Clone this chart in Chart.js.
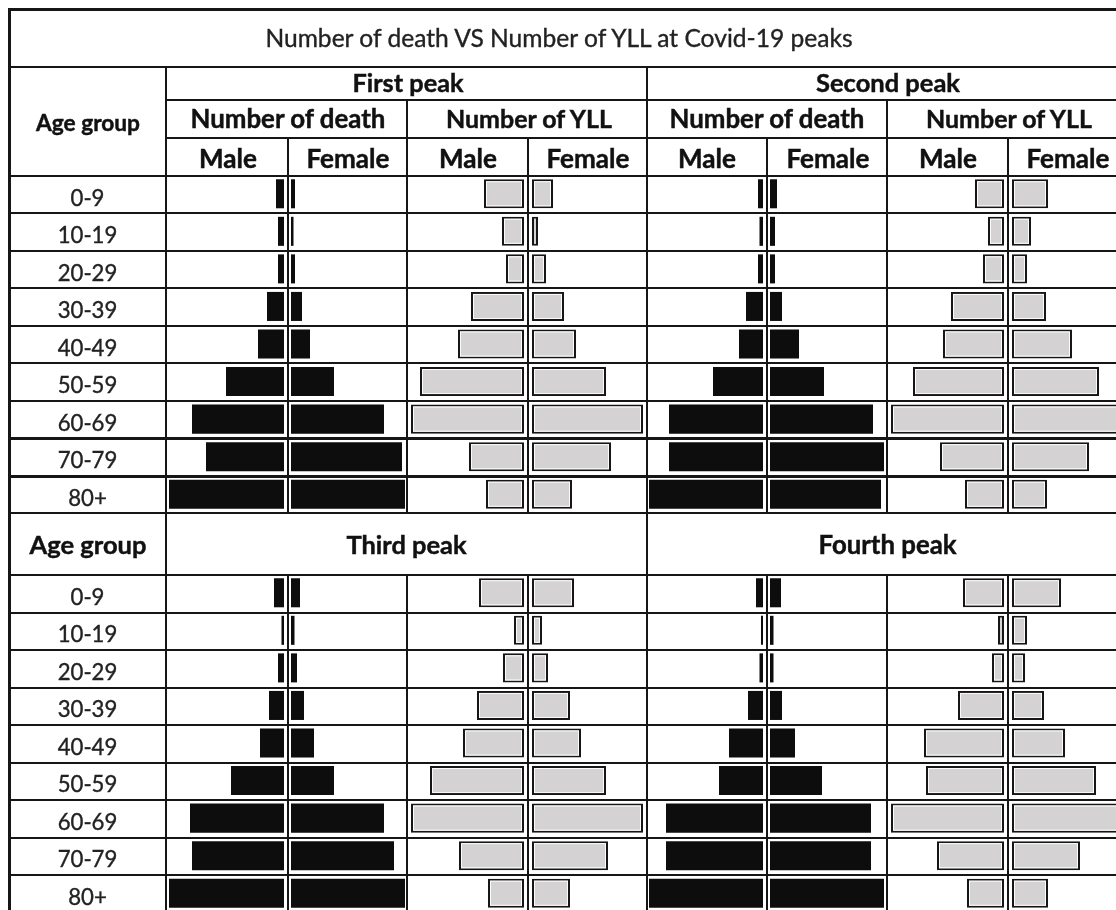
<!DOCTYPE html>
<html><head><meta charset="utf-8">
<script src="https://cdn.jsdelivr.net/npm/chart.js@4.4.0/dist/chart.umd.min.js"></script>
<style>
html,body{margin:0;padding:0;background:#fff;overflow:hidden;width:1116px;height:910px;}
#wrap{position:relative;width:1116px;height:910px;overflow:hidden;background:#fff;}
canvas.bar{position:absolute;}
#grid{position:absolute;left:0;top:0;}
</style></head><body>
<div id="wrap"><svg id="grid" width="1116" height="910" xmlns="http://www.w3.org/2000/svg" shape-rendering="crispEdges"></svg></div>
<script>
// ---- data (bar lengths, relative units) ----
const ageGroups = ['0-9','10-19','20-29','30-39','40-49','50-59','60-69','70-79','80+'];
const peakNames = ['First peak','Second peak','Third peak','Fourth peak'];
const measureNames = ['Number of death','Number of YLL'];
const sexNames = ['Male','Female'];
const titleText = 'Number of death VS Number of YLL at Covid-19 peaks';
const ageHeader = 'Age group';

const p1DeathMale   = [8, 6, 6, 17, 26, 58, 92, 78, 115];
const p1DeathFemale = [4, 2.5, 4, 11, 19, 43, 93, 111, 114];
const p1YllMale     = [40, 22, 18, 53, 66, 104, 113, 55, 38];
const p1YllFemale   = [21, 6, 14, 32, 44, 74, 111, 79, 40];
const p2DeathMale   = [5, 3.5, 5, 17, 24, 50, 94, 94, 114];
const p2DeathFemale = [7, 5, 5, 12, 29, 54, 103, 114, 111];
const p2YllMale     = [29, 16, 21, 53, 61, 91, 113, 64, 39];
const p2YllFemale   = [36, 19, 15, 34, 60, 87, 113, 77, 35];
const p3DeathMale   = [10, 2.5, 6, 15, 24, 53, 94, 92, 115];
const p3DeathFemale = [9, 3.5, 6, 13, 23, 43, 93, 103, 114];
const p3YllMale     = [45, 10, 21, 47, 61, 94, 113, 65, 36];
const p3YllFemale   = [42, 10, 16, 38, 49, 74, 111, 76, 38];
const p4DeathMale   = [7, 2, 3.5, 15, 34, 44, 97, 97, 114];
const p4DeathFemale = [11, 3.5, 3.5, 12, 25, 52, 101, 101, 114];
const p4YllMale     = [41, 6, 12, 46, 80, 78, 113, 67, 37];
const p4YllFemale   = [49, 15, 13, 32, 53, 84, 113, 68, 36];
const axisMax = 118;

// ---- layout ----
const wrap = document.getElementById('wrap');
const svg = document.getElementById('grid');
const NS = 'http://www.w3.org/2000/svg';
const ROW_TOP = 176, ROW_H_TOP = 37.48, ROW_BOT = 575, ROW_H_BOT = 37.5;
const LINE = '#161616';

function rect(x, y, w, h){
  const r = document.createElementNS(NS,'rect');
  r.setAttribute('x', x); r.setAttribute('y', y); r.setAttribute('width', w); r.setAttribute('height', h);
  r.setAttribute('fill', LINE); svg.appendChild(r);
}
function hline(x1, x2, y, h){ rect(x1, y, x2 - x1, h); }
function vline(x, y1, y2, w){ rect(x, y1, w, y2 - y1); }

hline(8, 1116, 8, 3);
hline(8, 1116, 66, 2);
hline(165, 1116, 99, 2);
hline(165, 1116, 137, 2);
for (let k = 0; k <= 9; k++) {
  const y = Math.round(ROW_TOP + k * ROW_H_TOP) - 1;
  hline(8, 1116, y, (k === 7 || k === 8) ? 3 : 2);
}
for (let k = 0; k <= 9; k++) {
  const y = Math.round(ROW_BOT + k * ROW_H_BOT) - 1;
  hline(8, 1116, y, 2);
}
vline(8, 8, 910, 3);
vline(165, 66, 910, 2);
vline(646, 66, 910, 2);
[406, 886].forEach(x => { vline(x, 99, 514, 2); vline(x, 574, 910, 2); });
const centerLines = [287, 527, 766, 1007];
centerLines.forEach(x => { vline(x, 137, 514, 2); vline(x, 574, 910, 2); });

// ---- text ----
const mctx = document.createElement('canvas').getContext('2d');
const FONT = 'Lato';
function fitSize(text, weight, target){
  mctx.font = weight + ' 100px ' + FONT;
  return 100 * target / mctx.measureText(text).width;
}
function addText(text, cx, by, size, weight, color, sw){
  const t = document.createElementNS(NS,'text');
  t.setAttribute('x', cx); t.setAttribute('y', by);
  t.setAttribute('text-anchor','middle');
  t.setAttribute('font-family', FONT);
  t.setAttribute('font-size', size.toFixed(2));
  t.setAttribute('font-weight', weight);
  t.setAttribute('fill', color || '#111');
  t.setAttribute('stroke', color || '#111');
  t.setAttribute('stroke-width', sw);
  t.setAttribute('shape-rendering','auto');
  t.textContent = text;
  svg.appendChild(t);
}
function fitText(text, cx, by, w, weight, color){
  addText(text, cx, by, fitSize(text, weight, w), weight, color, weight >= 700 ? 0.45 : 0.35);
}

fitText(titleText, 559, 46.5, 592, 400, '#222');
fitText(peakNames[0], 408, 91.7, 111, 700);
fitText(peakNames[1], 888, 91.7, 144, 700);
fitText(measureNames[0], 288, 128.3, 196, 700);
fitText(measureNames[1], 529, 128.3, 168, 700);
fitText(measureNames[0], 767, 128.3, 196, 700);
fitText(measureNames[1], 1009, 128.3, 168, 700);
[228, 468, 707, 948].forEach(x => fitText(sexNames[0], x, 168.3, 58, 700));
[348, 588, 828, 1068].forEach(x => fitText(sexNames[1], x, 168.3, 83, 700));
fitText(ageHeader, 88, 130.5, 104, 700);
fitText(ageHeader, 88, 554, 117, 700);
fitText(peakNames[2], 406.5, 554, 120, 700);
fitText(peakNames[3], 887.5, 554, 138, 700);
const ageSize = fitSize('60-69', 400, 59.7);
ageGroups.forEach((g, i) => {
  addText(g, 87.5, ROW_TOP + i * ROW_H_TOP + 29.8, ageSize, 400, '#222', 0.35);
  addText(g, 87.5, ROW_BOT + i * ROW_H_BOT + 29.8, ageSize, 400, '#222', 0.35);
});

// ---- charts ----
const STYLE = {
  death: { bg: '#0d0d0d', border: '#0d0d0d', bw: 0, gapM: 3, gapF: 3, inner: false },
  yll:   { bg: '#d4d2d3', border: '#161616', bw: 2, gapM: 3, gapF: 4, inner: true }
};
// thin white inner outline seen on the grey bars
const innerLine = {
  id: 'innerLine',
  afterDatasetsDraw(chart, args, opts) {
    if (!opts.on) return;
    const ctx = chart.ctx;
    ctx.save();
    ctx.strokeStyle = 'rgba(255,255,255,0.9)';
    ctx.lineWidth = 1;
    chart.getDatasetMeta(0).data.forEach(el => {
      const p = el.getProps(['x','y','base','height'], true);
      const left = Math.min(p.x, p.base) + 2.5, right = Math.max(p.x, p.base) - 2.5;
      const top = p.y - p.height / 2 + 2.5, bottom = p.y + p.height / 2 - 2.5;
      if (right - left > 1) ctx.strokeRect(left, top, right - left, bottom - top);
    });
    ctx.restore();
  }
};
function makeChart(left, top, w, h, values, reverse, st){
  const c = document.createElement('canvas');
  c.className = 'bar';
  c.width = w; c.height = h;
  c.style.left = left + 'px'; c.style.top = top + 'px';
  c.style.width = w + 'px'; c.style.height = h + 'px';
  wrap.insertBefore(c, svg);
  new Chart(c, {
    type: 'bar',
    data: { labels: ageGroups, datasets: [{
      data: values, backgroundColor: st.bg, borderColor: st.border, borderWidth: st.bw,
      borderSkipped: false, barPercentage: 0.773, categoryPercentage: 1
    }]},
    options: {
      indexAxis: 'y', responsive: false, maintainAspectRatio: false, animation: false,
      devicePixelRatio: 1,
      layout: { padding: 0 },
      plugins: { legend: { display: false }, tooltip: { enabled: false }, innerLine: { on: st.inner } },
      scales: {
        x: { display: false, min: 0, max: axisMax, reverse: reverse },
        y: { display: false }
      }
    },
    plugins: [innerLine]
  });
}
const panels = [
  { cx: centerLines[0], top: ROW_TOP, st: STYLE.death, m: p1DeathMale, f: p1DeathFemale },
  { cx: centerLines[1], top: ROW_TOP, st: STYLE.yll,   m: p1YllMale,   f: p1YllFemale },
  { cx: centerLines[2], top: ROW_TOP, st: STYLE.death, m: p2DeathMale, f: p2DeathFemale },
  { cx: centerLines[3], top: ROW_TOP, st: STYLE.yll,   m: p2YllMale,   f: p2YllFemale },
  { cx: centerLines[0], top: ROW_BOT, st: STYLE.death, m: p3DeathMale, f: p3DeathFemale },
  { cx: centerLines[1], top: ROW_BOT, st: STYLE.yll,   m: p3YllMale,   f: p3YllFemale },
  { cx: centerLines[2], top: ROW_BOT, st: STYLE.death, m: p4DeathMale, f: p4DeathFemale },
  { cx: centerLines[3], top: ROW_BOT, st: STYLE.yll,   m: p4YllMale,   f: p4YllFemale }
];
const W = 118, H = 338;
panels.forEach(p => {
  makeChart(p.cx - p.st.gapM - W, p.top - 1, W, H, p.m, true, p.st);
  makeChart(p.cx + 1 + p.st.gapF, p.top - 1, W, H, p.f, false, p.st);
});
</script>
</body></html>
